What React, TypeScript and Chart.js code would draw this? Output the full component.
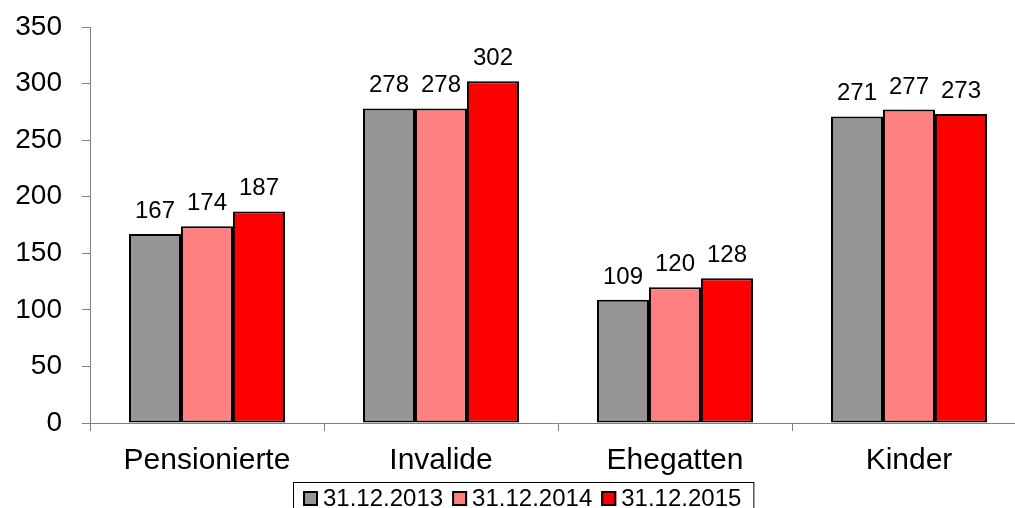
import React, { useEffect, useRef } from "react";
import { Chart, registerables } from "chart.js";

Chart.register(...registerables);

const categories = ["Pensionierte", "Invalide", "Ehegatten", "Kinder"];
const seriesLabels = ["31.12.2013", "31.12.2014", "31.12.2015"];
const values2013 = [167, 278, 109, 271];
const values2014 = [174, 278, 120, 277];
const values2015 = [187, 302, 128, 273];
const seriesColors = ["#969696", "#FF8080", "#FF0000"];
const yMin = 0;
const yMax = 350;
const yStep = 50;

const FONT = "'Liberation Sans', Arial, Helvetica, sans-serif";
const AXIS_GRAY = "#808080";

const dataLabelPlugin = {
  id: "dataLabels",
  afterDatasetsDraw(chart: any) {
    const ctx = chart.ctx;
    ctx.save();
    ctx.font = `24px ${FONT}`;
    ctx.fillStyle = "#000";
    ctx.textAlign = "center";
    ctx.textBaseline = "alphabetic";
    chart.data.datasets.forEach((ds: any, i: number) => {
      const meta = chart.getDatasetMeta(i);
      meta.data.forEach((bar: any, j: number) => {
        ctx.fillText(String(ds.data[j]), bar.x, bar.y - 16);
      });
    });
    ctx.restore();
  },
};

const boxedLegendPlugin = {
  id: "boxedLegend",
  afterDraw(chart: any) {
    const ctx = chart.ctx;
    const marker = 15;
    const textGap = 5;
    const itemGap = 9;
    const padL = 10;
    const padR = 12;
    ctx.save();
    ctx.font = `24px ${FONT}`;
    const items = chart.data.datasets.map((ds: any) => ({
      label: ds.label,
      color: ds.backgroundColor,
      w: marker + textGap + ctx.measureText(ds.label).width,
    }));
    const inner = items.reduce((s: number, it: any) => s + it.w, 0) + itemGap * (items.length - 1);
    const boxW = inner + padL + padR;
    const boxL = Math.round(chart.width / 2 - boxW / 2);
    const boxT = 482;
    const cy = 498.5;
    ctx.strokeStyle = "#000";
    ctx.lineWidth = 1;
    ctx.strokeRect(boxL + 0.5, boxT + 0.5, boxW, 60);
    let x = boxL + padL;
    ctx.textBaseline = "middle";
    ctx.textAlign = "left";
    items.forEach((it: any) => {
      ctx.fillStyle = it.color;
      ctx.fillRect(x, cy - marker / 2, marker, marker);
      ctx.lineWidth = 2;
      ctx.strokeStyle = "#000";
      ctx.strokeRect(x + 1, cy - marker / 2 + 1, marker - 2, marker - 2);
      ctx.fillStyle = "#000";
      ctx.fillText(it.label, x + marker + textGap, cy + 1);
      x += it.w + itemGap;
    });
    ctx.restore();
  },
};

export default function App() {
  const canvasRef = useRef<HTMLCanvasElement | null>(null);

  useEffect(() => {
    const canvas = canvasRef.current;
    if (!canvas) return;
    const allSeries = [values2013, values2014, values2015];
    const chart = new Chart(canvas, {
      type: "bar",
      data: {
        labels: categories,
        datasets: allSeries.map((vals, i) => ({
          label: seriesLabels[i],
          data: vals,
          backgroundColor: seriesColors[i],
          borderColor: "#000",
          borderWidth: 2,
          borderSkipped: false,
          categoryPercentage: 2 / 3,
          barPercentage: 1,
        })),
      },
      options: {
        responsive: false,
        animation: false,
        devicePixelRatio: 1,
        layout: { padding: { top: 27, right: 20, bottom: 0, left: 0 } },
        plugins: {
          legend: { display: false },
          tooltip: { enabled: false },
          title: { display: false },
        },
        scales: {
          x: {
            offset: true,
            grid: {
              display: true,
              offset: true,
              drawOnChartArea: false,
              drawTicks: true,
              tickLength: 8,
              color: AXIS_GRAY,
            },
            border: { display: true, color: AXIS_GRAY, width: 1 },
            ticks: {
              color: "#000",
              font: { family: FONT, size: 30 },
              padding: 12,
              maxRotation: 0,
              autoSkip: false,
            },
            afterFit: (scale: any) => {
              scale.height = 85;
              scale.paddingLeft = 0;
              scale.paddingRight = 0;
            },
          },
          y: {
            min: yMin,
            max: yMax,
            grid: {
              display: true,
              drawOnChartArea: false,
              drawTicks: true,
              tickLength: 8,
              color: AXIS_GRAY,
            },
            border: { display: true, color: AXIS_GRAY, width: 1 },
            ticks: {
              stepSize: yStep,
              color: "#000",
              font: { family: FONT, size: 28 },
              padding: 20,
            },
            afterFit: (scale: any) => {
              scale.width = 90;
              scale.paddingTop = 0;
              scale.paddingBottom = 0;
            },
          },
        },
      },
      plugins: [dataLabelPlugin, boxedLegendPlugin],
    });
    return () => chart.destroy();
  }, []);

  return (
    <div
      style={{
        position: "fixed",
        left: 0,
        top: 0,
        width: 1015,
        height: 508,
        overflow: "hidden",
        background: "#fff",
      }}
    >
      <canvas ref={canvasRef} width={1046} height={508} style={{ display: "block" }} />
    </div>
  );
}
